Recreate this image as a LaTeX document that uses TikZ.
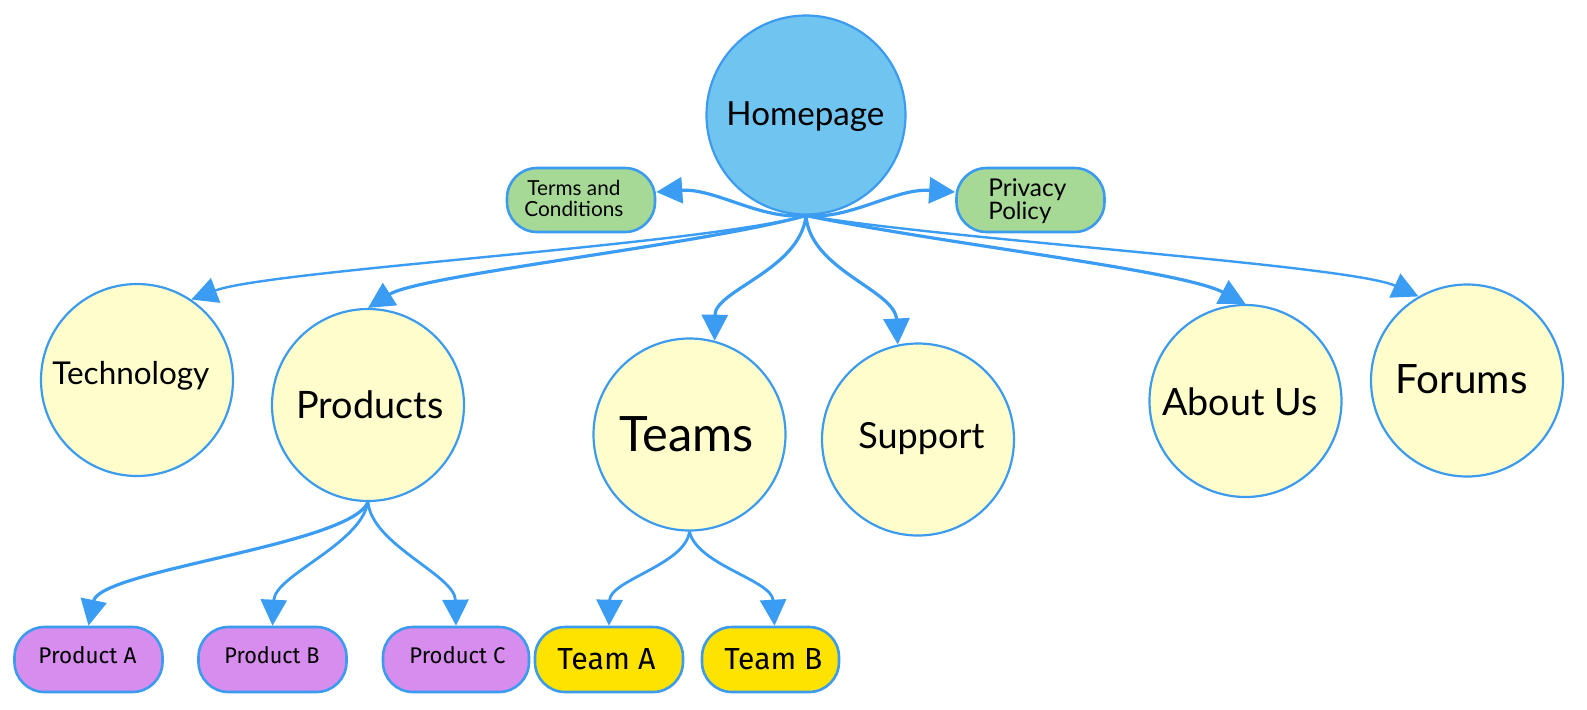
\documentclass[tikz,border=0pt]{standalone}
\usepackage{fontspec}
\setmainfont{Lato}
\newfontfamily\boxfont{Fira Sans}
\usetikzlibrary{arrows.meta}
\definecolor{hpblue}{HTML}{70C4F0}
\definecolor{edgeblue}{HTML}{3C9BEE}
\definecolor{arrowblue}{HTML}{3A9CF2}
\definecolor{circfill}{HTML}{FEFDCB}
\definecolor{greenfill}{HTML}{A6D996}
\definecolor{purplefill}{HTML}{D68DEE}
\definecolor{teamfill}{HTML}{FFE300}
\begin{document}
\begin{tikzpicture}[x=0.5pt,y=-0.5pt,
 pagecirc/.style={circle, draw=edgeblue, line width=1.1pt, fill=circfill, minimum size=96pt, inner sep=0pt},
 homecirc/.style={pagecirc, fill=hpblue, minimum size=99.5pt},
 pill/.style={draw=edgeblue, line width=1.3pt, rounded corners=15pt, minimum height=32.5pt, inner sep=0pt},
 legal/.style={pill, fill=greenfill, minimum width=74pt, minimum height=32pt},
 prodbox/.style={pill, fill=purplefill, minimum width=74pt},
 teambox/.style={pill, fill=teamfill},
 lbl/.style={inner sep=0pt, anchor=base west},
 link/.style={draw=arrowblue, line width=1.6pt, -{Triangle[length=13pt,width=13pt]}},
 thinlink/.style={link, line width=1.2pt},
 sublink/.style={link, line width=1.4pt},
]
\useasboundingbox (0,0) rectangle (1587,709);

% shapes
\node[homecirc] (hp) at (806,115) {};
\node[legal] (terms) at (581,200) {};
\node[legal] (privacy) at (1030.5,200) {};
\node[pagecirc] (tech) at (137,380) {};
\node[pagecirc] (prod) at (368,405) {};
\node[pagecirc] (teams) at (689.5,434.5) {};
\node[pagecirc] (support) at (918,439.5) {};
\node[pagecirc] (about) at (1245.5,401) {};
\node[pagecirc] (forums) at (1467,380.5) {};
\node[prodbox] (pa) at (88.5,659.5) {};
\node[prodbox] (pb) at (272.5,659.5) {};
\node[prodbox, minimum width=73pt] (pc) at (456,659.5) {};
\node[teambox, minimum width=74pt] (ta) at (609,659.5) {};
\node[teambox, minimum width=68.5pt] (tb) at (770.5,659.5) {};

% texts
\node[lbl] (hp-t) at (726,125) {\resizebox{79pt}{!}{Homepage}};
\node[lbl] (terms-t1) at (527,195) {\resizebox{46.5pt}{!}{Terms and}};
\node[lbl] (terms-t2) at (524,216) {\resizebox{49.5pt}{!}{Conditions}};
\node[lbl] (privacy-t1) at (988,196) {\resizebox{39pt}{!}{Privacy}};
\node[lbl] (privacy-t2) at (988,219) {\resizebox{31.5pt}{!}{Policy}};
\node[lbl] (tech-t) at (52,384) {\resizebox{78.5pt}{!}{Technology}};
\node[lbl] (prod-t) at (296,418) {\resizebox{73.5pt}{!}{Products}};
\node[lbl] (teams-t) at (619,451) {\resizebox{67pt}{!}{Teams}};
\node[lbl] (support-t) at (858,448) {\resizebox{63pt}{!}{Support}};
\node[lbl] (about-t) at (1162,415) {\resizebox{77.5pt}{!}{About Us}};
\node[lbl] (forums-t) at (1395,393) {\resizebox{66pt}{!}{Forums}};
\node[lbl] (pa-t) at (38,663) {\resizebox{49pt}{8.5pt}{\boxfont Product A}};
\node[lbl] (pb-t) at (224,663) {\resizebox{47.5pt}{8.5pt}{\boxfont Product B}};
\node[lbl] (pc-t) at (409,663) {\resizebox{48pt}{8.5pt}{\boxfont Product C}};
\node[lbl] (ta-t) at (557,669) {\resizebox{49pt}{10.5pt}{\boxfont Team A}};
\node[lbl] (tb-t) at (724,669) {\resizebox{49pt}{10.5pt}{\boxfont Team B}};

% connectors from homepage
\draw[link] (hp.south) .. controls (760,220) and (715,188) .. ([yshift=4pt]terms.east);
\draw[link] (hp.south) .. controls (850,220) and (895,188) .. ([yshift=4pt]privacy.west);
\draw[thinlink] (hp.south) .. controls (700,245) and (270,270) .. (tech.56);
\draw[link] (hp.south) .. controls (700,245) and (420,275) .. (prod.north);
\draw[link] (hp.south) .. controls (800,270) and (715,290) .. (teams.75);
\draw[link] (hp.south) .. controls (810,270) and (895,290) .. (support.102);
\draw[link] (hp.south) .. controls (950,245) and (1180,270) .. (about.north);
\draw[thinlink] (hp.south) .. controls (950,240) and (1350,265) .. (forums.120);

% connectors from products and teams
\draw[link] (prod.south) .. controls (350,545) and (100,570) .. (pa.north);
\draw[sublink] (prod.south) .. controls (360,545) and (275,575) .. (pb.north);
\draw[sublink] (prod.south) .. controls (372,545) and (455,575) .. (pc.north);
\draw[sublink] (teams.south) .. controls (685,565) and (610,580) .. (ta.north);
\draw[sublink] (teams.south) .. controls (697,565) and (772,580) .. ([xshift=2pt]tb.north);
\end{tikzpicture}
\end{document}
